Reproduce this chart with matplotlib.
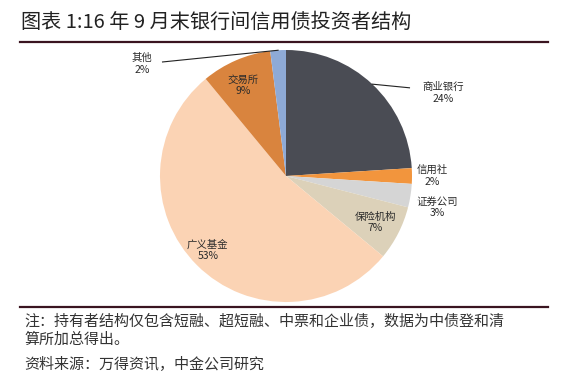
import matplotlib
matplotlib.use("Agg")
import matplotlib.pyplot as plt
import numpy as np
from matplotlib.lines import Line2D

plt.rcParams['font.family'] = ['Noto Sans CJK SC', 'DejaVu Sans']

# 16年9月末银行间信用债投资者结构 (%)
names = ["商业银行", "信用社", "证券公司", "保险机构", "广义基金", "交易所", "其他"]
shares = [24, 2, 3, 7, 53, 9, 2]
colors = ["#4a4c54", "#f2953d", "#d5d5d5", "#dcd1b9", "#fbd3b4", "#d9843e", "#8eaad6"]

# label placement (pie radius = 1), leader line end if outside
label_pos = [(1.25, 0.66), (1.16, 0.0), (1.20, -0.25), (0.71, -0.37),
             (-0.62, -0.59), (-0.34, 0.72), (-1.14, 0.89)]
leader_end = [(0.98, 0.70), None, None, None, None, None, (-0.98, 0.905)]

fig = plt.figure(figsize=(5.64, 3.81), dpi=100)
ax = fig.add_axes([0, 0, 1, 1])

wedges, _ = ax.pie(shares, colors=colors, startangle=90, counterclock=False,
                   radius=1, wedgeprops=dict(linewidth=0))

# map pixels: centre at (286,176), radius 126 px
ax.set_xlim(-286 / 126, (564 - 286) / 126)
ax.set_ylim(-(381 - 176) / 126, 176 / 126)
ax.set_aspect('auto')
ax.axis('off')

total = sum(shares)
cum = np.cumsum([0] + shares)
for i, name in enumerate(names):
    mid = 90 - 360 * (cum[i] + shares[i] / 2) / total
    ang = np.deg2rad(mid)
    if leader_end[i] is not None:
        ex, ey = np.cos(ang), np.sin(ang)
        lx, ly = leader_end[i]
        ax.plot([ex, lx], [ey, ly], color="#222222", lw=0.8)
    x, y = label_pos[i]
    ax.text(x, y, f"{name}\n{shares[i]}%", ha="center", va="center",
            fontsize=7.5, color="#2b2b2b", linespacing=1.2)

# title and rules
fig.text(0.038, 0.942, "图表 1:16 年 9 月末银行间信用债投资者结构", fontsize=14.5,
         style="italic", color="#222222", ha="left", va="center")
for yy in [0.890, 0.194]:
    fig.add_artist(Line2D([0.035, 0.972], [yy, yy], transform=fig.transFigure,
                          color="#3a1420", lw=1.6))

fig.text(0.043, 0.155, "注：持有者结构仅包含短融、超短融、中票和企业债，数据为中债登和清",
         fontsize=10.8, style="italic", color="#333333", va="center")
fig.text(0.043, 0.108, "算所加总得出。", fontsize=10.8, style="italic",
         color="#333333", va="center")
fig.text(0.043, 0.042, "资料来源：万得资讯，中金公司研究", fontsize=10.8,
         style="italic", color="#333333", va="center")

fig.savefig("out.png", dpi=100)
